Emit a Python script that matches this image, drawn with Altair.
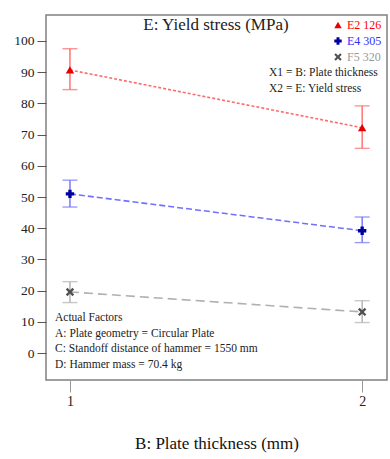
import altair as alt
import pandas as pd

# ---- data ----
series = ["E2 126", "E4 305", "F5 320"]
thickness = [1, 2]
e2_mean = [90.7, 72.2]
e2_low = [84.4, 65.6]
e2_high = [97.5, 79.2]
e4_mean = [51.0, 39.2]
e4_low = [46.8, 35.4]
e4_high = [55.4, 43.6]
f5_mean = [19.6, 13.2]
f5_low = [16.2, 9.8]
f5_high = [22.9, 16.8]
y_ticks = [0, 10, 20, 30, 40, 50, 60, 70, 80, 90, 100]
x_ticks = [1, 2]
factors_lines = [
    "Actual Factors",
    "A: Plate geometry = Circular Plate",
    "C: Standoff distance of hammer = 1550 mm",
    "D: Hammer mass = 70.4 kg",
]
x_defs = ["X1 = B: Plate thickness", "X2 = E: Yield stress"]

rows = []
for name, m, lo, hi in [
    (series[0], e2_mean, e2_low, e2_high),
    (series[1], e4_mean, e4_low, e4_high),
    (series[2], f5_mean, f5_low, f5_high),
]:
    for x, a, b, c in zip(thickness, m, lo, hi):
        rows.append({"series": name, "x": x, "mean": a, "low": b, "high": c})
df = pd.DataFrame(rows)

FONT = "Liberation Serif"
xscale = alt.Scale(domain=[0.918, 2.085], nice=False, zero=False)
yscale = alt.Scale(domain=[-8.6, 108.3], nice=False, zero=False)

xaxis = alt.Axis(values=x_ticks, title="B: Plate thickness (mm)", grid=False,
                 domain=False, tickSize=12, tickColor="#999", labelPadding=2,
                 labelFontSize=14, labelColor="#222", labelFont=FONT,
                 titleFont=FONT, titleFontSize=17, titleFontWeight="normal",
                 titleColor="#111", titlePadding=27, format="d",
                 labelOverlap=False)
yaxis = alt.Axis(values=y_ticks, title=None, grid=False, domain=False,
                 tickSize=9, tickColor="#555", labelPadding=3,
                 labelFontSize=13.5, labelColor="#222", labelFont=FONT,
                 labelOverlap=False, labelFlush=False, format="d")

def X():
    return alt.X("x:Q", scale=xscale, axis=xaxis)

def Y(field):
    return alt.Y(f"{field}:Q", scale=yscale, axis=yaxis)

line_colors = ["#ff3b3b", "#3b3bff", "#a8a8a8"]
err_colors = ["#ff6a6a", "#7070ff", "#b0b0b0"]
fill_colors = ["#e60000", "#0000a0", "#505050"]
label_colors = ["#ff0000", "#3030ff", "#999999"]
x_path = "M-1,-0.6L-0.6,-1L0,-0.4L0.6,-1L1,-0.6L0.4,0L1,0.6L0.6,1L0,0.4L-0.6,1L-1,0.6L-0.4,0Z"
shapes = ["triangle-up", "cross", x_path]

line_stroke = alt.Scale(domain=series, range=line_colors)
err_stroke = alt.Scale(domain=series, range=err_colors)
dash_scale = alt.Scale(domain=series, range=[[3, 2], [6, 3], [9, 5]])
fill_scale = alt.Scale(domain=series, range=fill_colors)
shape_scale = alt.Scale(domain=series, range=shapes)

base = alt.Chart(df)

err_rule = base.mark_rule(strokeWidth=1.4).encode(
    x=X(), y=Y("low"), y2="high:Q",
    stroke=alt.Stroke("series:N", scale=err_stroke, legend=None),
)
cap_low = base.mark_tick(orient="horizontal", size=15, thickness=1.4).encode(
    x=X(), y=Y("low"),
    color=alt.Color("series:N", scale=err_stroke, legend=None),
)
cap_high = base.mark_tick(orient="horizontal", size=15, thickness=1.4).encode(
    x=X(), y=Y("high"),
    color=alt.Color("series:N", scale=err_stroke, legend=None),
)

lines = base.mark_line(strokeWidth=1.6).encode(
    x=X(), y=Y("mean"),
    stroke=alt.Stroke("series:N", scale=line_stroke, legend=None),
    strokeDash=alt.StrokeDash("series:N", scale=dash_scale, legend=None),
    detail="series:N",
)

points = base.mark_point(filled=True, size=70, opacity=1).encode(
    x=X(), y=Y("mean"),
    fill=alt.Fill("series:N", scale=fill_scale, legend=None),
    shape=alt.Shape("series:N", scale=shape_scale, legend=None),
)

title_txt = alt.Chart(pd.DataFrame({"t": ["E: Yield stress (MPa)"]})).mark_text(
    font=FONT, fontSize=17, color="#222", align="center", baseline="middle"
).encode(text="t:N", x=alt.value(170), y=alt.value(10))

# manual legend (symbol + coloured label)
legend_layers = []
for i, name in enumerate(series):
    legend_layers.append(
        alt.Chart(pd.DataFrame({"t": [name]})).mark_point(
            filled=True, size=55, opacity=1, shape=shapes[i], fill=fill_colors[i]
        ).encode(x=alt.value(292), y=alt.value(10 + 16 * i))
    )
    legend_layers.append(
        alt.Chart(pd.DataFrame({"t": [name]})).mark_text(
            font=FONT, fontSize=12, color=label_colors[i], align="left", baseline="middle"
        ).encode(text="t:N", x=alt.value(301), y=alt.value(10 + 16 * i))
    )

def text_lines(lines_list, x0, y0, step):
    layers = []
    for i, s in enumerate(lines_list):
        layers.append(
            alt.Chart(pd.DataFrame({"t": [s]})).mark_text(
                font=FONT, fontSize=11.5, color="#222", align="left", baseline="middle"
            ).encode(text="t:N", x=alt.value(x0), y=alt.value(y0 + i * step))
        )
    return layers

xdef_layers = text_lines(x_defs, 223, 58, 16)
fact_layers = text_lines(factors_lines, 9, 303, 15.7)

chart = alt.layer(
    err_rule, cap_low, cap_high, lines, points, title_txt,
    *legend_layers, *xdef_layers, *fact_layers
).properties(
    width=341, height=365,
    autosize=alt.AutoSizeParams(type="none"),
    padding={"left": 46, "top": 15, "right": 3, "bottom": 79},
    background="white",
).configure_view(stroke="#808080", strokeWidth=1.5)

chart.save("out.html", embed_options={"renderer": "svg", "actions": False})
